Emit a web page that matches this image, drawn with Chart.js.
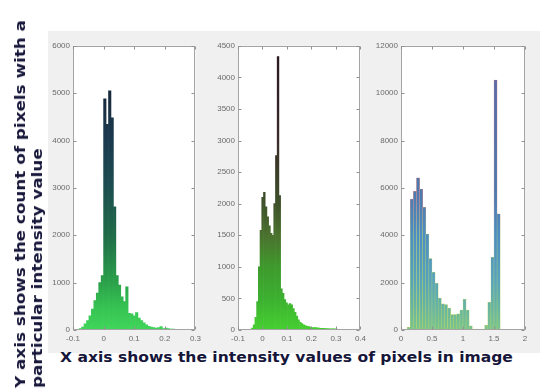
<!DOCTYPE html>
<html><head><meta charset="utf-8">
<script src="https://cdn.jsdelivr.net/npm/chart.js@4"></script>
<style>
html,body{margin:0;padding:0;background:#fff;width:540px;height:390px;overflow:hidden;position:relative;}
#bg{position:absolute;left:48px;top:31px;width:492px;height:322px;background:#f0f0f0;}
.pane{position:absolute;top:38px;height:308px;}
#xlabel{position:absolute;left:60px;top:349px;font:bold 14px "DejaVu Sans",sans-serif;line-height:17px;color:#16163a;white-space:nowrap;transform-origin:0 0;transform:scaleX(1.11);}
#ylabel{position:absolute;left:12px;top:388px;transform-origin:0 0;transform:rotate(-90deg) scaleX(1.2);font:bold 14px "DejaVu Sans",sans-serif;line-height:17px;color:#16163a;white-space:nowrap;}
</style></head>
<body>
<div id="bg"></div>
<div class="pane" id="p1" style="left:43px;width:162px;"><canvas id="c1"></canvas></div>
<div class="pane" id="p2" style="left:208px;width:162px;"><canvas id="c2"></canvas></div>
<div class="pane" id="p3" style="left:371px;width:162px;"><canvas id="c3"></canvas></div>
<div id="xlabel">X axis shows the intensity values of pixels in image</div>
<div id="ylabel">Y axis shows the count of pixels with a<br>particular intensity value</div>
<script>
// ---- Panel 1 ----
const binWidth1 = 0.008;
const binEdges1 = [-0.080,-0.072,-0.064,-0.056,-0.048,-0.040,-0.032,-0.024,-0.016,-0.008,
  0.000,0.008,0.016,0.024,0.032,0.040,0.048,0.056,0.064,0.072,
  0.080,0.088,0.096,0.104,0.112,0.120,0.128,0.136,0.144,0.152,
  0.160,0.168,0.176,0.184,0.192,0.200,0.208,0.216,0.224];
const counts1 = [30,60,130,200,300,440,620,780,1000,1150,
  4880,4340,5050,4480,2600,1150,950,700,600,910,
  350,340,300,370,250,200,150,110,80,60,
  50,40,50,70,30,40,30,20,20];
const xTicks1 = [-0.1,0,0.1,0.2,0.3];
const yTicks1 = [0,1000,2000,3000,4000,5000,6000];

// ---- Panel 2 ----
const binWidth2 = 0.007;
const binEdges2 = [-0.045,-0.038,-0.031,-0.024,-0.017,-0.010,-0.003,0.004,0.011,0.018,
  0.025,0.032,0.039,0.046,0.053,0.060,0.067,0.074,0.081,0.088,
  0.095,0.102,0.109,0.116,0.123,0.130,0.137,0.144,0.151,0.158,
  0.165,0.172,0.179,0.186,0.193,0.200,0.207,0.214,0.221,0.228,
  0.235,0.242,0.249,0.256,0.263,0.270,0.277,0.284,0.291,0.298,0.305];
const counts2 = [30,80,200,450,1000,1580,2100,2180,1950,1790,
  1650,1530,1500,2000,2760,4330,2130,650,580,480,
  430,400,420,400,340,280,220,160,120,100,
  80,70,60,55,45,40,40,38,35,30,
  28,25,25,22,22,20,20,18,18,15,12];
const xTicks2 = [-0.1,0,0.1,0.2,0.3,0.4];
const yTicks2 = [0,500,1000,1500,2000,2500,3000,3500,4000,4500];

// ---- Panel 3 ----
const binWidth3 = 0.05;
const binEdges3 = [0.10,0.15,0.20,0.25,0.30,0.35,0.40,0.45,0.50,0.55,
  0.60,0.65,0.70,0.75,0.80,0.85,0.90,0.95,1.00,1.05,
  1.10,1.15,1.20,1.25,1.30,1.35,1.40,1.45,1.50,1.55];
const counts3 = [110,5530,5850,6420,5950,5180,4050,3020,2430,1970,
  1350,1100,1070,930,650,650,680,840,1300,840,
  180,40,40,40,40,200,1170,3070,10550,4900];
const xTicks3 = [0,0.5,1,1.5,2];
const yTicks3 = [0,2000,4000,6000,8000,10000,12000];

function gradient(stops){
  return function(c){
    const ch = c.chart;
    if(!ch.chartArea) return stops[0][1];
    const y = ch.scales.y;
    const g = ch.ctx.createLinearGradient(0, y.getPixelForValue(y.min), 0, y.getPixelForValue(y.max));
    stops.forEach(s => g.addColorStop(s[0], s[1]));
    return g;
  };
}

const boxPlugin = {
  id:'box',
  beforeDatasetsDraw(chart){
    const a = chart.chartArea, ctx = chart.ctx;
    ctx.save(); ctx.fillStyle = '#ffffff';
    ctx.fillRect(a.left, a.top, a.right-a.left, a.bottom-a.top);
    ctx.restore();
  },
  afterDraw(chart){
    const a = chart.chartArea, ctx = chart.ctx;
    const xs = chart.scales.x, ys = chart.scales.y;
    ctx.save();
    ctx.strokeStyle = '#a4a4a4'; ctx.lineWidth = 1;
    const l = Math.round(a.left)+0.5, r = Math.round(a.right)-0.5, t = Math.round(a.top)+0.5, b = Math.round(a.bottom)-0.5;
    ctx.strokeRect(l, t, r-l, b-t);
    ctx.strokeStyle = '#909090';
    ctx.beginPath();
    xs.ticks.forEach(tk => {
      const px = Math.round(xs.getPixelForValue(tk.value))+0.5;
      ctx.moveTo(px, b); ctx.lineTo(px, b-3);
      ctx.moveTo(px, t); ctx.lineTo(px, t+3);
    });
    ys.ticks.forEach(tk => {
      const py = Math.round(ys.getPixelForValue(tk.value))+0.5;
      ctx.moveTo(l, py); ctx.lineTo(l+3, py);
      ctx.moveTo(r, py); ctx.lineTo(r-3, py);
    });
    ctx.stroke();
    ctx.restore();
  }
};

function fmt(v){ return String(Math.round(v*1000)/1000); }

function makeChart(id, edges, width, counts, xTicks, yTicks, fill, border, bw){
  const pts = edges.map((e,i) => ({x: e + width/2, y: counts[i]}));
  return new Chart(document.getElementById(id), {
    type:'bar',
    data:{datasets:[{data:pts, backgroundColor:gradient(fill),
      borderColor: border ? gradient(border) : 'rgba(0,0,0,0)', borderWidth: bw,
      barPercentage:1, categoryPercentage:1, borderSkipped:false}]},
    options:{
      responsive:true, maintainAspectRatio:false, animation:false,
      layout:{padding:{top:7,right:8,left:0,bottom:0}},
      plugins:{legend:{display:false}, tooltip:{enabled:false}},
      scales:{
        x:{type:'linear', min:xTicks[0], max:xTicks[xTicks.length-1], offset:false,
          grid:{display:false, drawTicks:false}, border:{display:false},
          afterBuildTicks:s => { s.ticks = xTicks.map(v => ({value:v})); },
          afterFit:s => { s.height = 16; },
          ticks:{padding:4, maxRotation:0, autoSkip:false, color:'#6a6a6a',
            font:{family:'"Liberation Sans", Arial, sans-serif', size:8}, callback:v => fmt(v)}},
        y:{min:yTicks[0], max:yTicks[yTicks.length-1],
          grid:{display:false, drawTicks:false}, border:{display:false},
          afterBuildTicks:s => { s.ticks = yTicks.map(v => ({value:v})); },
          afterFit:s => { s.width = 30; },
          ticks:{padding:3, autoSkip:false, color:'#6a6a6a',
            font:{family:'"Liberation Sans", Arial, sans-serif', size:8}, callback:v => String(v)}}
      }
    },
    plugins:[boxPlugin]
  });
}

makeChart('c1', binEdges1, binWidth1, counts1, xTicks1, yTicks1,
  [[0,'#40d65a'],[0.08,'#36c252'],[0.17,'#2aa04a'],[0.33,'#1f6c48'],[0.5,'#1c4e50'],[0.67,'#1b3a4e'],[0.85,'#18283a'],[1,'#141c2c']],
  null, 0);
makeChart('c2', binEdges2, binWidth2, counts2, xTicks2, yTicks2,
  [[0,'#46d030'],[0.11,'#3cb030'],[0.22,'#3e9a2c'],[0.33,'#4a722e'],[0.44,'#3e522a'],[0.67,'#3a2a2a'],[1,'#2a1820']],
  null, 0);
makeChart('c3', binEdges3, binWidth3, counts3, xTicks3, yTicks3,
  [[0,'#7cc48c'],[0.08,'#68b4a2'],[0.17,'#58a4ba'],[0.33,'#4e8ec2'],[0.5,'#4e78ac'],[0.9,'#5a6aa8'],[1,'#6068a8']],
  [[0,'#b4d460'],[0.33,'#a8cc78'],[0.45,'#d08a8a'],[1,'#d06a6a']], 0.5);
</script>
</body></html>
